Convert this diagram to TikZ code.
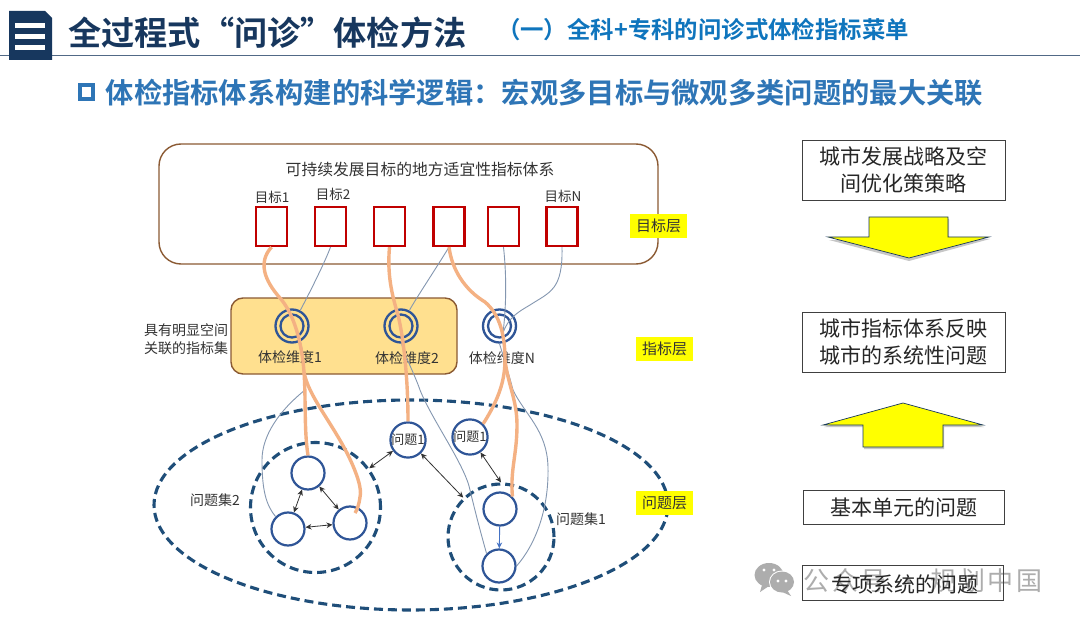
\documentclass[tikz,border=0pt]{standalone}
\usepackage{fontspec}
\setmainfont{Noto Sans CJK SC}[BoldFont={Noto Sans CJK SC Bold}]
\usetikzlibrary{arrows.meta,calc}
\definecolor{navy}{HTML}{17375E}
\definecolor{dash}{HTML}{1F4E79}
\definecolor{ringc}{HTML}{2F5597}
\definecolor{orangec}{HTML}{F4B183}
\definecolor{thinc}{HTML}{8497B0}
\definecolor{brownc}{HTML}{8B5A33}
\definecolor{redc}{HTML}{C00000}
\definecolor{txt}{HTML}{333333}
\definecolor{subc}{HTML}{0F75BD}
\definecolor{headc}{HTML}{2E75B6}
\definecolor{panel}{HTML}{FFE08F}
\definecolor{hilite}{HTML}{FFFF00}
\newcommand{\fs}[1]{\fontsize{#1}{\dimexpr#1pt*125/100\relax}\selectfont}
\tikzset{
  x=1pt,y=-1pt,
  goal/.style={draw=redc,line width=2.2pt,fill=white,minimum width=31pt,minimum height=39pt,inner sep=0pt},
  txtlabel/.style={text=txt,inner sep=0pt,align=center,font=\fs{13.5}},
  ring/.style={circle,draw=ringc,line width=2.3pt,minimum size=33pt,inner sep=0pt,
    path picture={\draw[ringc,line width=2.3pt] (path picture bounding box.center) circle (11.5pt);}},
  qnode/.style={circle,draw=ringc,line width=2.2pt,fill=white,minimum size=33pt,inner sep=0pt,text=txt,font=\fs{13}},
  setring/.style={draw=dash,line width=3.1pt,dash pattern=on 9pt off 5pt},
  thick orange/.style={draw=orangec,line width=3.4pt},
  thinline/.style={draw=thinc,line width=0.9pt},
  twoway/.style={{Stealth[length=6pt,width=5.5pt]}-{Stealth[length=6pt,width=5.5pt]},draw=black!80,line width=0.8pt},
  tag/.style={fill=hilite,minimum width=57pt,minimum height=24pt,inner sep=0pt,text=txt,font=\fs{15}},
  sidebox/.style={draw=black!75,line width=0.9pt,fill=none,inner sep=0pt,align=center,text=black!85,font=\fs{21}},
  bigarrow/.style={fill=hilite,draw=navy,line width=0.7pt},
  arrowshade/.style={fill=black!22,draw=none},
}
\begin{document}
\begin{tikzpicture}
\useasboundingbox (0,0) rectangle (1080,623);
\fill[white] (0,0) rectangle (1080,623);
% header
\draw[draw=navy!75,line width=1pt] (0,56) -- (1080,56);
\fill[navy] (9,11) -- (45,11) -- (52,18) -- (52,60) -- (9,60) -- cycle;
\fill[white] (15,23) rectangle (45,28.5);
\fill[white] (15,34) rectangle (45,39.5);
\fill[white] (15,45) rectangle (45,50.5);
\node[anchor=west,inner sep=0pt,text=navy,font=\bfseries\fs{33.2}] (title) at (68,33) {全过程式“问诊”体检方法};
\node[anchor=east,inner sep=0pt,text=subc,font=\bfseries\fs{23.4}] (subtitle) at (909,30) {（一）全科+专科的问诊式体检指标菜单};
\draw[draw=headc,line width=4.4pt] (80,85) rectangle (93,99);
\node[anchor=west,inner sep=0pt,font=\bfseries\fs{28.3},text=headc] (heading) at (105.5,93) {体检指标体系构建的科学逻辑：宏观多目标与微观多类问题的最大关联};
% goal layer
\draw[draw=brownc,line width=1.4pt,rounded corners=22pt] (159,144) rectangle (658,264);
\node[txtlabel,font=\fs{15.8}] (goaltitle) at (420,169) {可持续发展目标的地方适宜性指标体系};
\node[goal] (t1) at (271.5,226.5) {};
\node[goal] (t2) at (330.5,226.5) {};
\node[goal] (t3) at (389.5,226.5) {};
\node[goal] (t4) at (449,226.5) {};
\node[goal] (t5) at (503.5,226.5) {};
\node[goal] (t6) at (562,226.5) {};
\node[txtlabel] (l1) at (272,197) {目标1};
\node[txtlabel] (l2) at (333,194) {目标2};
\node[txtlabel] (l6) at (563,196) {目标N};
% indicator layer
\draw[draw=brownc,fill=panel,line width=1.4pt,rounded corners=12pt] (231,298) rectangle (457,374);
\node[ring] (d1) at (292,326) {};
\node[ring] (d2) at (401,326) {};
\node[ring] (dn) at (499.5,326) {};
\node[txtlabel,font=\fs{14}] (dl1) at (290,357) {体检维度1};
\node[txtlabel,font=\fs{14}] (dl2) at (407,358) {体检维度2};
\node[txtlabel,font=\fs{14}] (dln) at (502,358) {体检维度N};
\node[txtlabel,font=\fs{14}] (side) at (186,339) {具有明显空间\\关联的指标集};
% problem layer
\draw[setring] (411,505) ellipse [x radius=257pt,y radius=105pt];
\node[setring,circle,minimum size=130pt,inner sep=0pt] (s2) at (315.5,507.5) {};
\node[setring,circle,minimum size=106pt,inner sep=0pt] (s1) at (501,537) {};
\node[qnode] (a) at (308,473) {};
\node[qnode] (b) at (288,529) {};
\node[qnode] (c) at (350,523) {};
\node[qnode] (p1) at (408,440) {问题1};
\node[qnode] (p2) at (470,437) {问题1};
\node[qnode] (e) at (500,509) {};
\node[qnode] (f) at (499,566) {};
\node[txtlabel,font=\fs{14}] (s2l) at (215,500) {问题集2};
\node[txtlabel,font=\fs{14}] (s1l) at (581,519) {问题集1};
% thin lines
\draw[thinline] (t2.south) .. controls (325,262) and (310,292) .. (d1);
\draw[thinline] (t4.south) .. controls (435,270) and (415,300) .. (d2);
\draw[thinline] (d2) .. controls (402,350) and (415,375) .. (420,390) .. controls (432,420) and (465,465) .. (470,490) .. controls (476,515) and (480,530) .. (f.north west);
\draw[thinline] (t5.south) .. controls (506,270) and (507,300) .. (503,333);
\draw[thinline] (t6.south) .. controls (563,290) and (550,292) .. (530,305) .. controls (518,312) and (508,318) .. (503,333);
\draw[thinline] (dn.south) .. controls (505,362) and (510,378) .. (513,390) .. controls (525,415) and (547,430) .. (548,467) .. controls (549,510) and (535,545) .. (f.east);
\draw[thinline] (d1) .. controls (302,345) and (305,370) .. (305,390) .. controls (280,410) and (262,435) .. (262,460) .. controls (262,490) and (266,505) .. (b.north west);
% orange lines
\draw[thick orange] (t1.south) .. controls (258,262) and (264,280) .. (280,298) .. controls (295,315) and (302,345) .. (304,372) .. controls (306,400) and (304,430) .. (a.north);
\draw[thick orange] (304,372) .. controls (308,395) and (330,420) .. (347,453) .. controls (358,475) and (362,490) .. (360,497) .. controls (359,505) and (357,510) .. (355,513);
\draw[thick orange] (t3.south) .. controls (387,275) and (392,295) .. (398,315) .. controls (404,340) and (408,380) .. (p1.north);
\draw[thick orange] (t4.south) .. controls (452,270) and (465,290) .. (485,302) .. controls (500,315) and (505,335) .. (505,360) .. controls (505,385) and (495,405) .. (p2.north east);
\draw[thick orange] (505,360) .. controls (508,385) and (517,400) .. (517,425) .. controls (517,455) and (510,470) .. (e.north east);
% arrows
\draw[twoway] (a) -- (b);
\draw[twoway] (a) -- (c);
\draw[twoway] (b) -- (c);
\draw[twoway] (p1) -- (s2);
\draw[twoway] (p1) -- (s1);
\draw[twoway] (p2) -- (s1.north);
\draw[-{Stealth[length=6pt,width=5.5pt]},draw={rgb,255:red,68;green,114;blue,196},line width=0.9pt] (e) -- (f);
% tags
\node[tag] (tg1) at (658.5,226) {目标层};
\node[tag] (tg2) at (664.5,349) {指标层};
\node[tag] (tg3) at (664.5,502.5) {问题层};
% right column
\node[sidebox,minimum width=203pt,minimum height=60pt] (ra) at (903.5,170) {城市发展战略及空\\间优化策策略};
\node[sidebox,minimum width=203pt,minimum height=60pt] (rb) at (903.5,342) {城市指标体系反映\\城市的系统性问题};
\node[sidebox,minimum width=201pt,minimum height=34pt] (rc) at (903.5,507) {基本单元的问题};
\fill[arrowshade] (870,219) -- (949,219) -- (949,239) -- (990,239) -- (909,261) -- (829,240) -- (870,240) -- cycle;
\draw[bigarrow] (869,217) -- (948,217) -- (948,237) -- (989,237) -- (909,258) -- (828,237) -- (869,237) -- cycle;
\fill[arrowshade] (864,449) -- (944,449) -- (944,427) -- (984,427) -- (903,405) -- (824,427) -- (864,427) -- cycle;
\draw[bigarrow] (863,447) -- (943,447) -- (943,425) -- (983,425) -- (903,403) -- (823,425) -- (863,425) -- cycle;
% watermark
\fill[black!32] (769,575) ellipse [x radius=14.5pt,y radius=12pt];
\fill[black!32] (762,585) -- (760,592) -- (769,586) -- cycle;
\fill[white] (782,582) ellipse [x radius=13pt,y radius=11.5pt];
\fill[black!32] (782,582) ellipse [x radius=12pt,y radius=10.5pt];
\fill[black!32] (787,590) -- (791,596) -- (780,591) -- cycle;
\foreach \p in {(764,570),(774,570),(778,581),(786,581)} \fill[white] \p circle (1.7pt);
\node[anchor=west,inner sep=0pt,text=black!32,font=\fs{26}\addfontfeatures{LetterSpace=11}] (wm) at (803,581) {公众号 · 规划中国};
\node[sidebox,minimum width=201pt,minimum height=35pt] (rd) at (902.5,582.5) {};
\node[inner sep=0pt,text=black!85,font=\fs{21}] (rdt) at (905,584) {专项系统的问题};
\end{tikzpicture}
\end{document}
